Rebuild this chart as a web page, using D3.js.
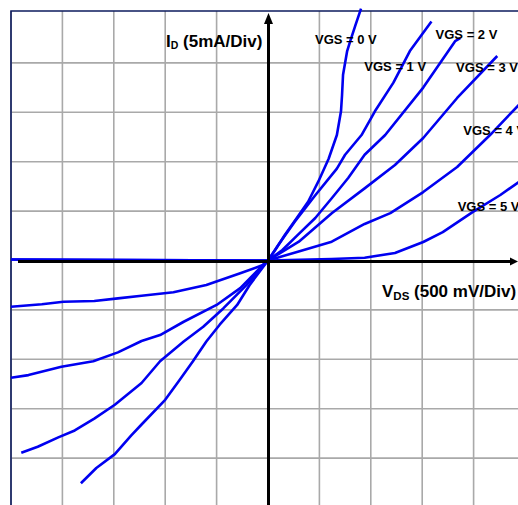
<!DOCTYPE html>
<html>
<head>
<meta charset="utf-8">
<script src="https://cdn.jsdelivr.net/npm/d3@7"></script>
<style>
body { margin: 0; background: #fff; }
.chart text { font-family: 'Liberation Sans', Arial, sans-serif; font-weight: bold; fill: #000; }
</style>
</head>
<body>
<div class="chart"></div>
<script>
const width = 518;
const height = 505;

// grid divisions: 500 mV/div and 5 mA/div
const vdsTicks = [-2.5, -2, -1.5, -1, -0.5, 0.5, 1, 1.5, 2, 2.5];
const idTicks = [-20, -15, -10, -5, 5, 10, 15, 20];

// measured curves, [VDS (V), ID (mA)]
const vgs0 = [[-1.82,-22.55],[-1.67,-21.0],[-1.49,-19.6],[-1.33,-17.7],[-1.23,-16.6],[-1.0,-14.1],[-0.86,-12.1],
              [-0.73,-10.2],[-0.6,-8.2],[-0.47,-6.5],[-0.3,-4.5],[-0.18,-2.5],[0,0],
              [0.07,1.06],[0.165,2.6],[0.28,4.3],[0.39,5.95],[0.49,8.0],[0.59,10.3],[0.67,12.7],[0.71,15.1],
              [0.72,16.7],[0.73,18.8],[0.77,21.2],[0.8,22.2],[0.85,23.8],[0.905,25.5]];
const vgs1 = [[-2.4,-19.45],[-2.24,-18.85],[-2.04,-17.9],[-1.88,-17.2],[-1.69,-16.0],[-1.49,-14.6],[-1.23,-12.4],
              [-1.05,-10.2],[-0.82,-8.2],[-0.63,-6.7],[-0.435,-4.85],[-0.21,-2.5],[0,0],
              [0.1,1.57],[0.26,3.93],[0.46,6.6],[0.67,9.3],[0.75,10.7],[0.91,12.7],[1.04,15.1],[1.22,18.0],
              [1.38,21.2],[1.59,24.2]];
const vgs2 = [[-2.5,-11.86],[-2.33,-11.6],[-2.01,-10.75],[-1.7,-10.2],[-1.46,-9.3],[-1.23,-8.15],[-1.05,-7.55],
              [-0.82,-6.2],[-0.5,-4.5],[-0.27,-2.8],[-0.05,-0.46],[0,0],
              [0.14,1.06],[0.29,2.6],[0.46,4.3],[0.62,6.3],[0.78,8.35],[0.94,10.7],[1.14,12.7],[1.51,17.5],
              [1.82,22.2],[1.87,22.5]];
const vgs3 = [[-2.5,-4.68],[-2.2,-4.43],[-1.99,-4.17],[-1.69,-4.1],[-1.46,-3.83],[-1.23,-3.56],[-0.92,-3.22],
              [-0.6,-2.48],[-0.27,-1.3],[-0.05,-0.46],[0,0],
              [0.3,1.9],[0.62,4.78],[0.94,7.3],[1.235,9.67],[1.51,12.4],[1.84,16.45],[2.23,20.7]];
const vgs4 = [[-2.5,0.1],[0,0],
              [0.29,0.89],[0.62,1.9],[0.94,3.7],[1.19,4.8],[1.51,6.93],[1.84,9.46],[2.16,12.7],[2.44,15.75]];
const vgs5 = [[-2.5,0.1],[0,0],
              [0.62,0.15],[0.94,0.28],[1.235,0.76],[1.51,1.87],[1.7,2.88],[1.99,4.9],[2.26,6.63],[2.44,7.95]];

const curves = [vgs0, vgs1, vgs2, vgs3, vgs4, vgs5];
const vgsNames = ['VGS = 0 V', 'VGS = 1 V', 'VGS = 2 V', 'VGS = 3 V', 'VGS = 4 V', 'VGS = 5 V'];
// where each name is written, in V / mA
const vgsNameAt = [[0.457, 21.9], [0.937, 19.2], [1.63, 22.4], [1.83, 19.1], [1.9, 12.75], [1.845, 4.96]];

const svg = d3.select('.chart')
                .append('svg')
                .attr('width', width)
                .attr('height', height);

const xScale = d3.scaleLinear()
                .domain([-2.5, 2.5])
                .range([11, 525]);
const yScale = d3.scaleLinear()
                .domain([-25, 25])
                .range([507.5, 13.5]);

// grid
svg.append('g')
    .selectAll('line')
    .data(vdsTicks)
    .enter()
    .append('line')
    .attr('x1', d=>xScale(d))
    .attr('x2', d=>xScale(d))
    .attr('y1', 11)
    .attr('y2', height)
    .attr('stroke', '#a9a9a9')
    .attr('stroke-width', 1.6);

svg.append('g')
    .selectAll('line')
    .data(idTicks)
    .enter()
    .append('line')
    .attr('x1', 11)
    .attr('x2', width)
    .attr('y1', d=>yScale(d))
    .attr('y2', d=>yScale(d))
    .attr('stroke', '#a9a9a9')
    .attr('stroke-width', 1.6);

// frame
svg.append('path')
    .attr('d', 'M' + xScale(-2.5) + ',' + height + 'V11H' + width)
    .attr('fill', 'none')
    .attr('stroke', '#0d1b5e')
    .attr('stroke-width', 1.6);

// curves
const line = d3.line()
                .x(d=>xScale(d[0]))
                .y(d=>yScale(d[1]));

svg.append('g')
    .selectAll('path')
    .data(curves)
    .enter()
    .append('path')
    .attr('d', line)
    .attr('fill', 'none')
    .attr('stroke', '#0000f0')
    .attr('stroke-width', 2.6)
    .attr('stroke-linejoin', 'round');

// axes with arrows
const x0 = xScale(0) + 0.5;
const y0 = yScale(0) + 1;
svg.append('line')
    .attr('x1', 18).attr('x2', width - 4)
    .attr('y1', y0).attr('y2', y0)
    .attr('stroke', '#000').attr('stroke-width', 3);
svg.append('path')
    .attr('d', 'M' + width + ',' + y0 + 'l-8,-4v8z')
    .attr('fill', '#000');
svg.append('line')
    .attr('x1', x0).attr('x2', x0)
    .attr('y1', height).attr('y2', 22)
    .attr('stroke', '#000').attr('stroke-width', 3);
svg.append('path')
    .attr('d', 'M' + x0 + ',13l-4.5,11h9z')
    .attr('fill', '#000');

// curve names
svg.append('g')
    .selectAll('text')
    .data(vgsNames)
    .enter()
    .append('text')
    .attr('x', (d,i)=>xScale(vgsNameAt[i][0]))
    .attr('y', (d,i)=>yScale(vgsNameAt[i][1]))
    .attr('font-size', 13)
    .text(d=>d);

// axis titles
const idTitle = svg.append('text')
    .attr('x', 166)
    .attr('y', 47)
    .attr('font-size', 17);
idTitle.append('tspan').text('I');
idTitle.append('tspan').attr('font-size', 10.5).attr('dy', 2).text('D');
idTitle.append('tspan').attr('dy', -2).text(' (5mA/Div)');

const vdsTitle = svg.append('text')
    .attr('x', 382)
    .attr('y', 297)
    .attr('font-size', 17);
vdsTitle.append('tspan').text('V');
vdsTitle.append('tspan').attr('font-size', 11.5).attr('dy', 3).text('DS');
vdsTitle.append('tspan').attr('dy', -3).text(' (500 mV/Div)');
</script>
</body>
</html>
